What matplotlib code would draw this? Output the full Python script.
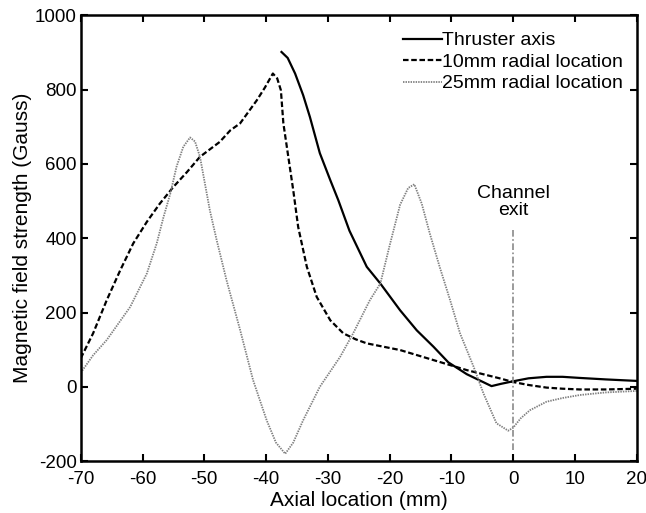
import numpy as np
import matplotlib.pyplot as plt

plt.rcParams['font.family'] = ['Liberation Sans', 'DejaVu Sans']
plt.rcParams['axes.unicode_minus'] = False

# Thruster axis
x_axis = [-37.5, -36.5, -35.3, -34.0, -32.9, -31.3, -29.6, -28.3, -26.5, -23.7, -21.5,
          -18.3, -15.6, -12.9, -10.5, -7.5, -5.5, -3.5, -2.0, 0, 2.5, 5.4, 8.0, 10.8,
          15.0, 20.0]
y_axis = [901, 885, 843, 785, 726, 629, 556, 502, 420, 323, 278,
          206, 152, 108, 66, 34, 18, 2, 8, 15, 23, 27, 27, 24,
          20, 16]

# 10mm radial location
x_10 = [-70, -68, -65.8, -63.6, -61.5, -59.3, -57.2, -55, -52.8, -50.7, -47.5, -45.8,
        -44.2, -41.5, -40.2, -38.9, -38.2, -37.6, -37.2, -36.4, -35.6, -34.8, -33.4,
        -31.8, -29.6, -27.5, -25.5, -23.7, -18.3, -12.9, -7.5, -2.2, 0, 2.5, 5.4,
        8.0, 10.8, 15.0, 20.0]
y_10 = [77, 144, 233, 314, 386, 444, 493, 538, 578, 619, 659, 690,
        709, 771, 805, 843, 830, 798, 709, 619, 529, 430, 323,
        242, 179, 144, 128, 117, 99, 72, 45, 23, 13, 5, -2,
        -5, -7, -7, -5]

# 25mm radial location
x_25 = [-70, -68, -65.8, -62, -59.3, -57.7, -56.6, -55.5, -54.5, -53.4, -52.3, -51.5,
        -50.7, -49.9, -49.1, -48, -46.4, -44.2, -42.1, -39.9, -38.4,
        -36.9, -35.6, -34.0, -31.3, -28.0, -25.9, -23.2, -21.5, -20, -18.3,
        -17.0, -16.0, -14.8, -13.5, -11.9, -10.2, -8.6, -6.4, -4.8, -2.7, -0.8, 0,
        1.2, 2.7, 5.4, 8.0, 10.8, 15.0, 20.0]
y_25 = [38, 85, 126, 215, 305, 386, 457, 520, 592, 646, 671, 660,
        619, 547, 475, 395, 287, 153, 18, -90, -150,
        -180, -150, -90, 0, 81, 144, 233, 278, 380, 490,
        535, 545, 493, 413, 323, 233, 144, 54, -18, -98, -118, -110,
        -85, -63, -40, -30, -22, -15, -11]

fig = plt.figure(figsize=(6.46, 5.13), dpi=100)
ax = fig.add_axes([0.125, 0.101, 0.8606, 0.8694])

ax.plot(x_axis, y_axis, color='black', lw=1.6, label='Thruster axis')
ax.plot(x_10, y_10, color='black', lw=1.6, linestyle=(0, (2.5, 1.2)),
        label='10mm radial location')
ax.plot(x_25, y_25, color='#808080', lw=1.3, linestyle=(0, (0.8, 0.6)),
        label='25mm radial location')

# channel exit marker
ax.plot([0, 0], [-170, 421], color='#8a8a8a', lw=1.2, linestyle=(0, (4, 1.5, 1, 1.5)))
ax.text(0, 497, 'Channel\nexit', ha='center', va='center', fontsize=14,
        linespacing=1.05)

ax.set_xlim(-70, 20)
ax.set_ylim(-200, 1000)
ax.set_xticks(np.arange(-70, 21, 10))
ax.set_yticks(np.arange(-200, 1001, 200))
ax.tick_params(direction='in', top=True, right=True, length=5, width=1.5,
               labelsize=13.5)
ax.tick_params(axis='x', pad=7)
ax.tick_params(axis='y', pad=3)
for s in ax.spines.values():
    s.set_linewidth(1.8)

ax.set_xlabel('Axial location (mm)', fontsize=15, labelpad=2)
ax.set_ylabel('Magnetic field strength (Gauss)', fontsize=15, labelpad=2)

ax.legend(loc='upper right', frameon=False, fontsize=14, handlelength=2.0,
          handletextpad=0.05, labelspacing=0.2, borderaxespad=0.0,
          bbox_to_anchor=(0.99, 0.98))

fig.savefig('out.png', dpi=100)
